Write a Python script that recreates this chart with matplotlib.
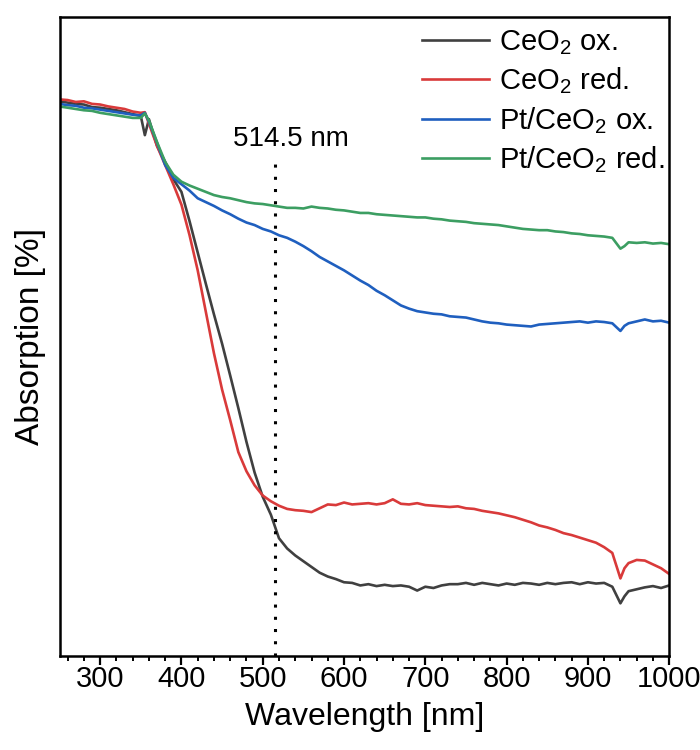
import matplotlib
matplotlib.use("Agg")
import matplotlib.pyplot as plt
from matplotlib.ticker import MultipleLocator, NullLocator

plt.rcParams['font.family'] = ['Liberation Sans', 'DejaVu Sans']
plt.rcParams['mathtext.default'] = 'regular'

# wavelength grid [nm]
wavelength = [250, 260, 270, 280, 290, 300, 310, 320, 330, 340, 350, 355,
              360, 370, 380, 390, 400, 410, 420, 430, 440, 450, 460, 470,
              480, 490, 500, 510, 520, 530, 540, 550, 560, 570, 580, 590,
              600, 610, 620, 630, 640, 650, 660, 670, 680, 690, 700, 710,
              720, 730, 740, 750, 760, 770, 780, 790, 800, 810, 820, 830,
              840, 850, 860, 870, 880, 890, 900, 910, 920, 930, 940, 945,
              950, 960, 970, 980, 990, 1000]

ceo2_ox = [87.0, 86.8, 86.6, 86.5, 86.1, 86.0, 85.8, 85.6, 85.3, 85.0, 84.7, 81.7,
           84.2, 80.0, 77.5, 74.8, 72.8, 68.2, 63.3, 58.4, 53.6, 49.0, 44.0, 38.9,
           33.6, 28.8, 25.0, 22.2, 18.5, 16.9, 15.8, 14.9, 14.0, 13.1, 12.5, 12.1,
           11.6, 11.5, 11.1, 11.3, 11.0, 11.2, 11.0, 11.1, 10.9, 10.3, 10.9, 10.7,
           11.1, 11.3, 11.3, 11.5, 11.2, 11.5, 11.3, 11.1, 11.4, 11.2, 11.5, 11.4,
           11.2, 11.5, 11.3, 11.5, 11.6, 11.3, 11.6, 11.4, 11.5, 10.9, 8.3, 9.4,
           10.2, 10.5, 10.8, 11.0, 10.7, 11.1]

ceo2_red = [87.3, 87.2, 86.9, 87.0, 86.6, 86.5, 86.2, 86.0, 85.8, 85.4, 85.2, 85.3,
            83.5, 80.0, 77.0, 74.0, 70.8, 66.0, 60.5, 54.0, 47.5, 41.8, 37.0, 32.0,
            29.0, 26.8, 25.2, 24.3, 23.6, 23.1, 22.9, 22.8, 22.6, 23.2, 23.8, 23.7,
            24.1, 23.8, 23.9, 24.0, 23.8, 24.0, 24.6, 23.9, 23.8, 24.0, 23.7, 23.6,
            23.5, 23.4, 23.5, 23.2, 23.1, 22.8, 22.6, 22.4, 22.1, 21.8, 21.4, 21.0,
            20.5, 20.2, 19.8, 19.3, 19.0, 18.6, 18.2, 17.8, 17.1, 16.2, 12.2, 13.8,
            14.6, 15.1, 15.0, 14.4, 13.8, 12.9]

pt_ceo2_ox = [86.6, 86.4, 86.3, 86.0, 85.9, 85.7, 85.5, 85.3, 85.1, 84.9, 84.8, 85.2,
              83.8, 80.5, 77.0, 75.0, 74.0, 73.0, 71.8, 71.2, 70.6, 69.9, 69.3, 68.6,
              68.0, 67.6, 67.0, 66.6, 66.0, 65.6, 65.0, 64.3, 63.5, 62.6, 61.9, 61.2,
              60.5, 59.7, 58.9, 58.2, 57.3, 56.6, 55.8, 55.0, 54.5, 54.1, 53.9, 53.7,
              53.6, 53.3, 53.2, 53.1, 52.8, 52.5, 52.3, 52.2, 52.0, 51.9, 51.8, 51.7,
              52.0, 52.1, 52.2, 52.3, 52.4, 52.5, 52.3, 52.5, 52.4, 52.2, 51.0, 51.8,
              52.2, 52.5, 52.8, 52.5, 52.6, 52.3]

pt_ceo2_red = [86.2, 86.0, 85.8, 85.6, 85.5, 85.2, 85.0, 84.8, 84.6, 84.4, 84.4, 85.1,
               84.0, 80.6, 77.5, 75.5, 74.4, 73.8, 73.3, 72.8, 72.3, 72.0, 71.8, 71.5,
               71.2, 71.0, 70.9, 70.7, 70.5, 70.3, 70.3, 70.2, 70.5, 70.3, 70.2, 70.0,
               69.9, 69.7, 69.5, 69.5, 69.3, 69.2, 69.1, 69.0, 68.9, 68.8, 68.8, 68.6,
               68.5, 68.3, 68.2, 68.1, 67.9, 67.8, 67.7, 67.6, 67.4, 67.2, 67.0, 66.9,
               66.8, 66.8, 66.6, 66.5, 66.3, 66.2, 66.0, 65.9, 65.8, 65.6, 63.9, 64.3,
               64.9, 64.8, 64.9, 64.7, 64.8, 64.6]

labels = ['CeO$_2$ ox.', 'CeO$_2$ red.', 'Pt/CeO$_2$ ox.', 'Pt/CeO$_2$ red.']
colors = ['#404040', '#d93a3a', '#1f5fbf', '#3c9e62']
laser_wl = 514.5

fig = plt.figure(figsize=(7, 7.5), dpi=100)
ax = fig.add_axes([0.085, 0.125, 0.871, 0.853])

for ys, lab, c in zip([ceo2_ox, ceo2_red, pt_ceo2_ox, pt_ceo2_red], labels, colors):
    ax.plot(wavelength, ys, color=c, lw=1.9, label=lab)

ax.axvline(laser_wl, ymax=0.78, color='black', lw=2.2,
           linestyle=(0, (1, 3)), dash_capstyle='butt')
ax.text(laser_wl + 20, 79.0, '514.5 nm', ha='center', va='bottom', fontsize=20)

ax.set_xlim(250, 1000)
ax.set_ylim(0, 100.3)
ax.xaxis.set_major_locator(MultipleLocator(100))
ax.xaxis.set_minor_locator(MultipleLocator(20))
ax.yaxis.set_major_locator(NullLocator())
ax.tick_params(axis='x', which='major', length=6.5, width=1.6, labelsize=21, pad=0)
ax.tick_params(axis='x', which='minor', length=3.5, width=1.4)
for sp in ax.spines.values():
    sp.set_linewidth(1.8)

ax.set_xlabel('Wavelength [nm]', fontsize=23, labelpad=6)
ax.set_ylabel('Absorption [%]', fontsize=24, labelpad=10)

ax.legend(loc='upper right', bbox_to_anchor=(0.997, 0.987), frameon=False, fontsize=21,
          handlelength=2.3, handletextpad=0.35, labelspacing=0.3, borderaxespad=0,
          borderpad=0.1)

fig.savefig('out.png', dpi=100)
